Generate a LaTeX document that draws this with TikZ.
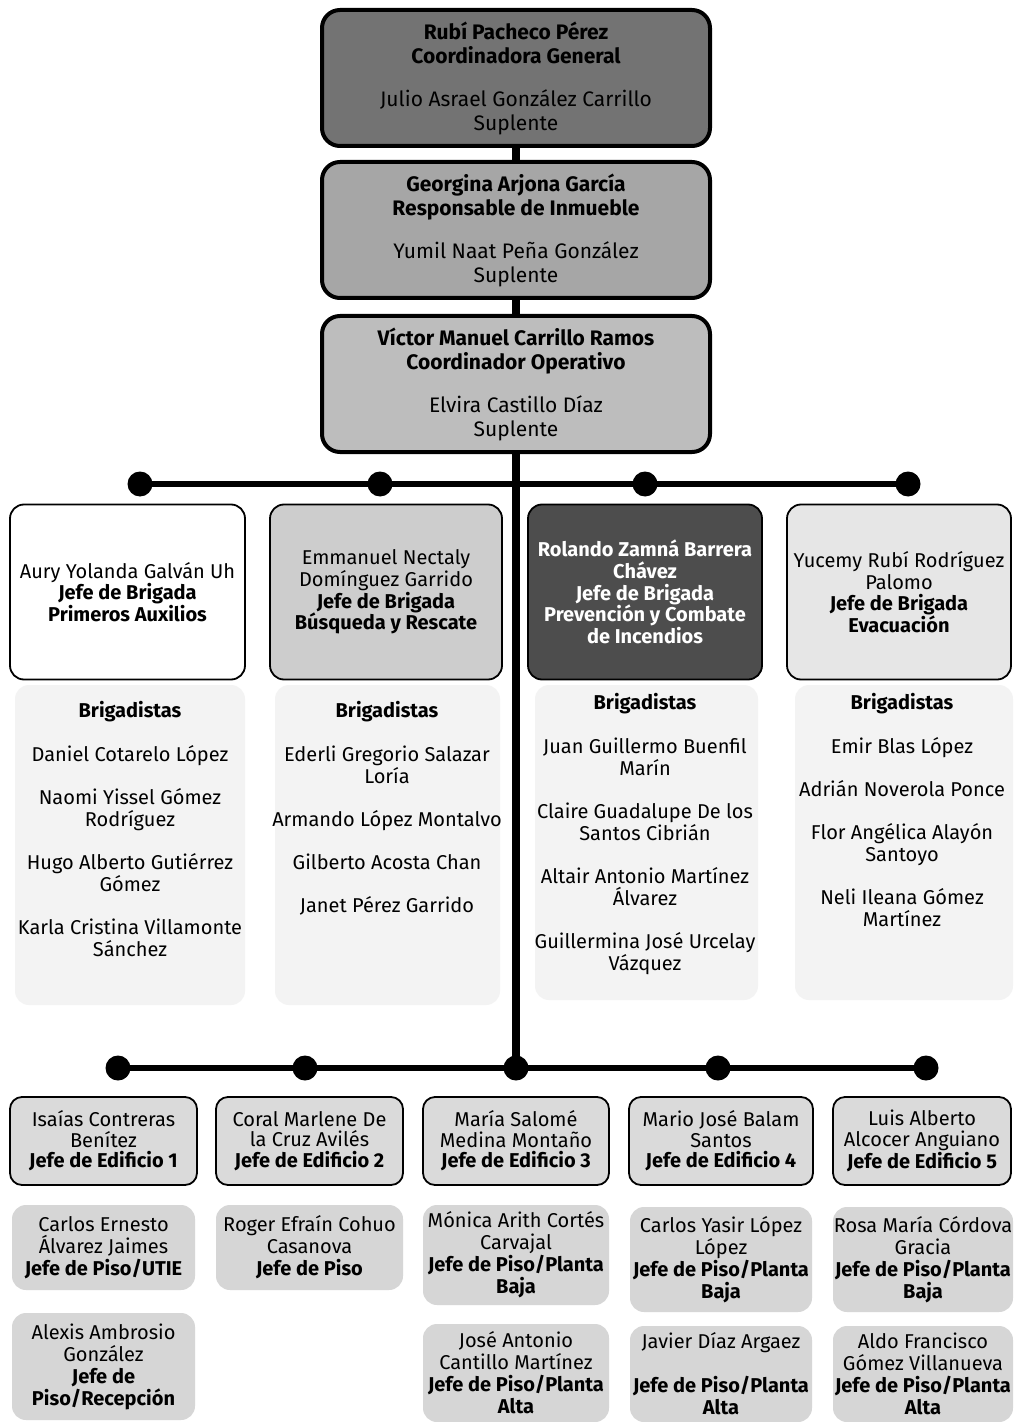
\documentclass[tikz,border=0pt]{standalone}
\usepackage{fontspec}
\setmainfont{Fira Sans}
\definecolor{leadA}{HTML}{737373}
\definecolor{leadB}{HTML}{A6A6A6}
\definecolor{leadC}{HTML}{BDBDBD}
\definecolor{brigB}{HTML}{CDCDCD}
\definecolor{brigC}{HTML}{4D4D4D}
\definecolor{brigD}{HTML}{E6E6E6}
\definecolor{panelgray}{HTML}{F3F3F3}
\definecolor{edifgray}{HTML}{DADADA}
\definecolor{floorgray}{HTML}{D6D6D6}
\begin{document}
\begin{tikzpicture}[x=0.5pt,y=-0.5pt,
  every node/.style={align=center, inner sep=0pt},
  lead/.style={draw, line width=2pt, rounded corners=9pt, minimum width=194pt, minimum height=68pt, font=\fontsize{10.5}{12}\selectfont},
  brig/.style={draw, line width=0.9pt, rounded corners=7pt, minimum height=87.5pt, font=\fontsize{10}{10.8}\selectfont},
  panel/.style={fill=panelgray, rounded corners=7pt},
  ptext/.style={font=\fontsize{10}{11}\selectfont},
  edif/.style={draw, line width=0.9pt, fill=edifgray, rounded corners=6pt, minimum height=44pt, font=\fontsize{10}{10.2}\selectfont},
  floorbox/.style={fill=floorgray, rounded corners=7pt, font=\fontsize{10}{11}\selectfont},
  dot/.style={circle, fill=black, minimum size=12.5pt, inner sep=0pt},
  trunk/.style={line width=4pt},
  bar/.style={line width=3pt}]

\fill[white] (0,0) rectangle (1013,1422);
\useasboundingbox (0,0) rectangle (1013,1422);

% leadership
\node[lead, fill=leadA] (l1) at (516,78)
  {\textbf{Rubí Pacheco Pérez}\\\textbf{Coordinadora General}\\[9.5pt]Julio Asrael González Carrillo\\Suplente};
\node[lead, fill=leadB] (l2) at (516,230)
  {\textbf{Georgina Arjona García}\\\textbf{Responsable de Inmueble}\\[9.5pt]Yumil Naat Peña González\\Suplente};
\node[lead, fill=leadC] (l3) at (516,384)
  {\textbf{Víctor Manuel Carrillo Ramos}\\\textbf{Coordinador Operativo}\\[9.5pt]Elvira Castillo Díaz\\Suplente};

% dots
\node[dot] (t1) at (140,484) {};
\node[dot] (t2) at (380,484) {};
\node[dot] (t3) at (645,484) {};
\node[dot] (t4) at (908,484) {};
\node[dot] (b1) at (118,1068) {};
\node[dot] (b2) at (305,1068) {};
\node[dot] (b3) at (516,1068) {};
\node[dot] (b4) at (718,1068) {};
\node[dot] (b5) at (926,1068) {};

\draw[trunk] (l1.south) -- (l2.north);
\draw[trunk] (l2.south) -- (l3.north);
\draw[trunk] (l3.south) -- (b3.center);
\draw[bar] (t1.center) -- (t4.center);
\draw[bar] (b1.center) -- (b5.center);

% brigade heads
\node[brig, fill=white, minimum width=117.5pt] (ba) at (127.5,592)
  {Aury Yolanda Galván Uh\\\textbf{Jefe de Brigada}\\\textbf{Primeros Auxilios}};
\node[brig, fill=brigB, minimum width=116pt] (bb) at (386,592)
  {Emmanuel Nectaly\\Domínguez Garrido\\\textbf{Jefe de Brigada}\\\textbf{Búsqueda y Rescate}};
\node[brig, fill=brigC, text=white, minimum width=117pt] (bc) at (645,592)
  {\textbf{Rolando Zamná Barrera}\\\textbf{Chávez}\\\textbf{Jefe de Brigada}\\\textbf{Prevención y Combate}\\\textbf{de Incendios}};
\node[brig, fill=brigD, minimum width=112pt] (bd) at (899,592)
  {Yucemy Rubí Rodríguez\\Palomo\\\textbf{Jefe de Brigada}\\\textbf{Evacuación}};

% brigadistas panels
\node[panel, minimum width=115pt, minimum height=160pt] (pa) at (130,845) {};
\node[panel, minimum width=112.5pt, minimum height=160pt] (pb) at (387.5,845) {};
\node[panel, minimum width=111.5pt, minimum height=157.5pt] (pc) at (646.5,842.5) {};
\node[panel, minimum width=109pt, minimum height=157.5pt] (pd) at (904,842.5) {};

\node[ptext] (ta) at (130,829)
  {\textbf{Brigadistas}\\[11pt]Daniel Cotarelo López\\[10.5pt]Naomi Yissel Gómez\\Rodríguez\\[10.5pt]Hugo Alberto Gutiérrez\\Gómez\\[10.5pt]Karla Cristina Villamonte\\Sánchez};
\node[ptext] (tb) at (387,808)
  {\textbf{Brigadistas}\\[11pt]Ederli Gregorio Salazar\\Loría\\[10.5pt]Armando López Montalvo\\[10.5pt]Gilberto Acosta Chan\\[10.5pt]Janet Pérez Garrido};
\node[ptext] (tc) at (645,834)
  {\textbf{Brigadistas}\\[11pt]Juan Guillermo Buenfil\\Marín\\[10.5pt]Claire Guadalupe De los\\Santos Cibrián\\[10.5pt]Altair Antonio Martínez\\Álvarez\\[10.5pt]Guillermina José Urcelay\\Vázquez};
\node[ptext] (td) at (902,810)
  {\textbf{Brigadistas}\\[11pt]Emir Blas López\\[10.5pt]Adrián Noverola Ponce\\[10.5pt]Flor Angélica Alayón\\Santoyo\\[10.5pt]Neli Ileana Gómez\\Martínez};

% building heads
\node[edif, minimum width=93.5pt] (e1) at (103.5,1141) {Isaías Contreras\\Benítez\\\textbf{Jefe de Edificio 1}};
\node[edif, minimum width=93.5pt] (e2) at (309.5,1141) {Coral Marlene De\\la Cruz Avilés\\\textbf{Jefe de Edificio 2}};
\node[edif, minimum width=93pt] (e3) at (516,1141) {María Salomé\\Medina Montaño\\\textbf{Jefe de Edificio 3}};
\node[edif, minimum width=92pt] (e4) at (721,1141) {Mario José Balam\\Santos\\\textbf{Jefe de Edificio 4}};
\node[edif, minimum width=89pt] (e5) at (922,1141) {Luis Alberto\\Alcocer Anguiano\\\textbf{Jefe de Edificio 5}};

% floor heads
\node[floorbox, minimum width=91.5pt, minimum height=42.5pt] (f1a) at (103.5,1247.5)
  {Carlos Ernesto\\Álvarez Jaimes\\\textbf{Jefe de Piso/UTIE}};
\node[floorbox, minimum width=93.5pt, minimum height=42.5pt] (f2a) at (309.5,1247.5)
  {Roger Efraín Cohuo\\Casanova\\\textbf{Jefe de Piso}};
\node[floorbox, minimum width=93pt, minimum height=50pt] (f3a) at (516,1255)
  {Mónica Arith Cortés\\Carvajal\\\textbf{Jefe de Piso/Planta}\\\textbf{Baja}};
\node[floorbox, minimum width=91pt, minimum height=52.5pt] (f4a) at (721,1259.5)
  {Carlos Yasir López\\López\\\textbf{Jefe de Piso/Planta}\\\textbf{Baja}};
\node[floorbox, minimum width=90pt, minimum height=52.5pt] (f5a) at (923,1259.5)
  {Rosa María Córdova\\Gracia\\\textbf{Jefe de Piso/Planta}\\\textbf{Baja}};
\node[floorbox, minimum width=91.5pt, minimum height=53.5pt] (f1b) at (103.5,1366.5)
  {Alexis Ambrosio\\González\\\textbf{Jefe de}\\\textbf{Piso/Recepción}};
\node[floorbox, minimum width=93pt, minimum height=49pt] (f3b) at (516,1373)
  {José Antonio\\Cantillo Martínez\\\textbf{Jefe de Piso/Planta}\\\textbf{Alta}};
\node[floorbox, minimum width=91pt, minimum height=48pt] (f4b) at (721,1374)
  {Javier Díaz Argaez\\[11pt]\textbf{Jefe de Piso/Planta}\\\textbf{Alta}};
\node[floorbox, minimum width=90pt, minimum height=48pt] (f5b) at (923,1374)
  {Aldo Francisco\\Gómez Villanueva\\\textbf{Jefe de Piso/Planta}\\\textbf{Alta}};
\end{tikzpicture}
\end{document}
